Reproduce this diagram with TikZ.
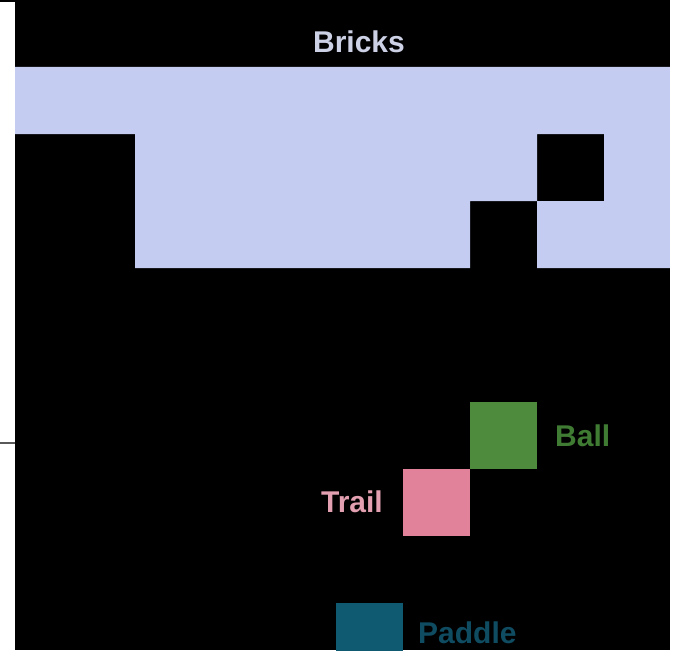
\documentclass[tikz,border=0pt]{standalone}
\usepackage{fontspec}
\setmainfont{Liberation Sans}
\usetikzlibrary{positioning}
\definecolor{brickblue}{HTML}{C4CDF1}
\definecolor{bricktext}{HTML}{CDD1E6}
\definecolor{ballgreen}{HTML}{4E8B3C}
\definecolor{balltext}{HTML}{3F7B33}
\definecolor{trailpink}{HTML}{E2829A}
\definecolor{trailtext}{HTML}{E3A0B1}
\definecolor{paddleteal}{HTML}{0F5A70}
\definecolor{paddletext}{HTML}{0F4C62}
\tikzset{cell/.style={minimum size=67pt, inner sep=0pt, outer sep=0pt},
  lbl/.style={font=\bfseries\fontsize{30}{32}\selectfont, inner sep=0pt}}

\begin{document}
\begin{tikzpicture}[x=1pt,y=-1pt]
  \useasboundingbox (0,0) rectangle (676,650);
  % playfield
  \fill[black] (15,0) rectangle (670,650);
  % bricks (row 1 full, rows 2-3 with holes)
  \fill[brickblue] (15,67) -- (670,67) -- (670,268) -- (537,268) -- (537,201) -- (604,201)
    -- (604,134) -- (537,134) -- (537,201) -- (470,201) -- (470,268) -- (135,268)
    -- (135,134) -- (15,134) -- cycle;
  \node[lbl, text=bricktext] (bricks) at (359,42) {Bricks};
  % ball, trail, paddle
  \node[cell, fill=ballgreen] (ball) at (503.5,435.5) {};
  \node[cell, fill=trailpink] (trail) at (436.5,502.5) {};
  \node[cell, fill=paddleteal] (paddle) at (369.5,636.5) {};
  \node[lbl, text=balltext, right=18pt of ball] (balllbl) {Ball};
  \node[lbl, text=trailtext, left=20pt of trail, yshift=1pt] (traillbl) {Trail};
  \node[lbl, text=paddletext, right=15pt of paddle, yshift=4pt] (paddlelbl) {Paddle};
  % frame strips
  \fill[white] (670,0) rectangle (676,650);
  \draw[line width=2pt] (0,1.5) -- (15,1.5);
  \draw[line width=2pt, gray!70!black] (0,442.5) -- (15,442.5);
\end{tikzpicture}
\end{document}
